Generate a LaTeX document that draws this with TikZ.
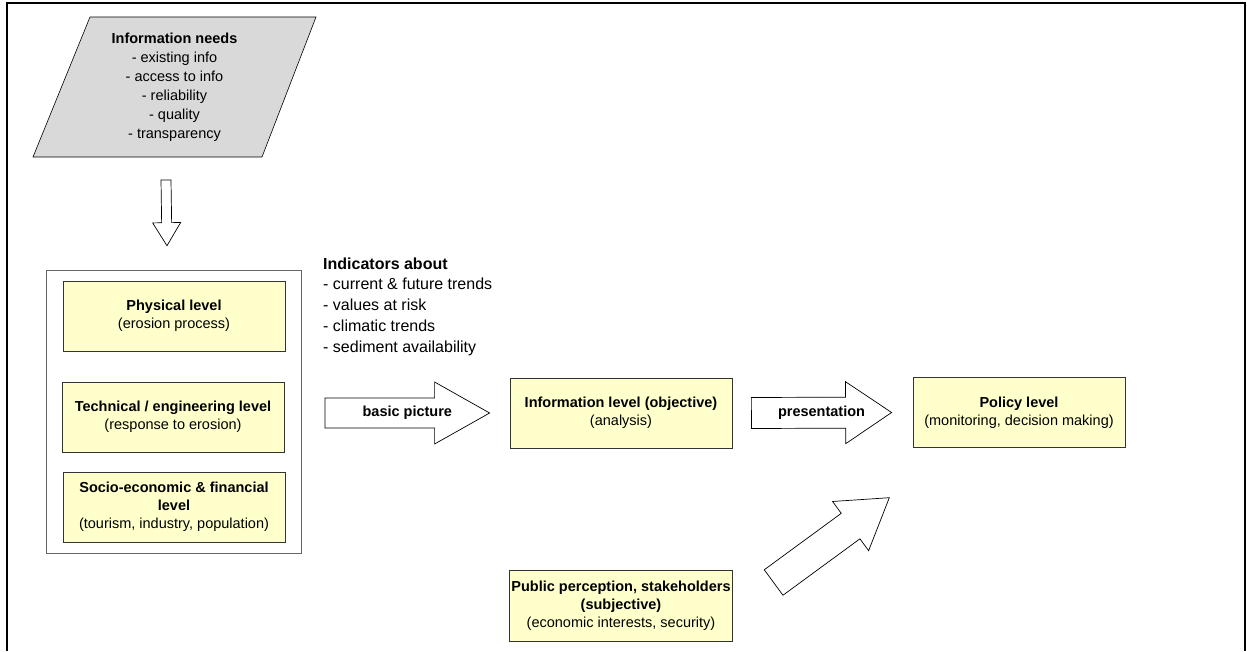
\documentclass[tikz,border=0pt]{standalone}
\usepackage{fontspec}
\setmainfont{Liberation Sans}
\usepackage{xcolor}
\usetikzlibrary{calc, fit, positioning}
\definecolor{boxfill}{HTML}{FFFFCC}
\definecolor{needsfill}{HTML}{D9D9D9}
\definecolor{boxline}{HTML}{333333}
\definecolor{frameline}{HTML}{666666}
\newcommand{\boxfont}{\fontsize{14.5}{18}\selectfont}
\newcommand{\listfont}{\fontsize{16}{20.7}\selectfont}
% hollow block arrow: tail, tip, half shaft, half head, head length
\newcommand{\blockarrow}[5]{%
  \coordinate (ba-h) at ($(#2)!#5!(#1)$);
  \draw[hollow] ($(#1)!#3!90:(#2)$) -- ($(ba-h)!#3!-90:(#1)$) -- ($(ba-h)!#4!-90:(#1)$)
    -- (#2) -- ($(ba-h)!#4!90:(#1)$) -- ($(ba-h)!#3!90:(#1)$) -- ($(#1)!#3!-90:(#2)$) -- cycle;
}

\begin{document}
\begin{tikzpicture}[
    x=1pt, y=-1pt,
    level/.style={rectangle, draw=boxline, fill=boxfill, line width=0.8pt, align=center, minimum width=222pt, minimum height=70pt, inner sep=2pt, font=\boxfont},
    group/.style={rectangle, draw=frameline, line width=0.8pt, inner xsep=15.5pt, inner ysep=10.5pt},
    needsbox/.style={draw=black, fill=needsfill, line width=0.6pt},
    hollow/.style={draw=black, fill=white, line width=0.7pt, line join=miter},
    arrowlabel/.style={font=\boxfont\bfseries, inner sep=0pt}
]
\useasboundingbox (0,0) rectangle (1247,651);
\draw[line width=2pt] (6.5,651) -- (6.5,3) -- (1245,3) -- (1245,651);

% information needs
\draw[needsbox] (90,17) -- (316,17) -- (262,157) -- (33,157) -- cycle;
\node[align=center, font=\fontsize{14.5}{19}\selectfont, inner sep=0pt] (needs) at (174.5,87)
  {\textbf{Information needs}\\- existing info\\- access to info\\- reliability\\- quality\\- transparency};

% the three levels
\node[level] (physical) at (174,316) {\textbf{Physical level}\\(erosion process)};
\node[level] (technical) at (173,417) {\textbf{Technical / engineering level}\\(response to erosion)};
\node[level] (socio) at (174,507) {\textbf{Socio-economic \& financial}\\\textbf{level}\\(tourism, industry, population)};
\node[group, fit=(physical)(technical)(socio)] (levels) {};

\node[level] (info) at (621,413) {\textbf{Information level (objective)}\\(analysis)};
\node[level, minimum width=212pt] (policy) at (1019,412.5) {\textbf{Policy level}\\(monitoring, decision making)};
\node[level, minimum height=71pt] (public) at (621,605.5) {\textbf{Public perception, stakeholders}\\\textbf{(subjective)}\\(economic interests, security)};

\node[align=left, anchor=west, inner sep=0pt, font=\listfont] (indicators) at (323,306.5)
  {\textbf{Indicators about}\\- current \& future trends\\- values at risk\\- climatic trends\\- sediment availability};

% block arrows
\coordinate (needs-out) at (166,180);
\coordinate (levels-in) at ($(levels.north)+(-6.5,-24)$);
\blockarrow{needs-out}{levels-in}{5pt}{14pt}{23pt}

\coordinate (basic-tail) at (325,413);
\coordinate (basic-tip) at ($(info.west)+(-20,0)$);
\blockarrow{basic-tail}{basic-tip}{15pt}{31pt}{55pt}
\node[arrowlabel] (basic) at ($(basic-tail)!0.5!(basic-tip)$) {basic picture};

\coordinate (pres-tail) at ($(info.east)+(19,0)$);
\coordinate (pres-tip) at ($(policy.west)+(-21,0)$);
\blockarrow{pres-tail}{pres-tip}{15.5pt}{31pt}{46pt}
\node[arrowlabel] (pres) at ($(pres-tail)!0.5!(pres-tip)$) {presentation};

\coordinate (public-out) at (773.6,582.5);
\coordinate (policy-in) at (889.3,497.7);
\blockarrow{public-out}{policy-in}{15.8pt}{30.5pt}{48pt}
\end{tikzpicture}
\end{document}
